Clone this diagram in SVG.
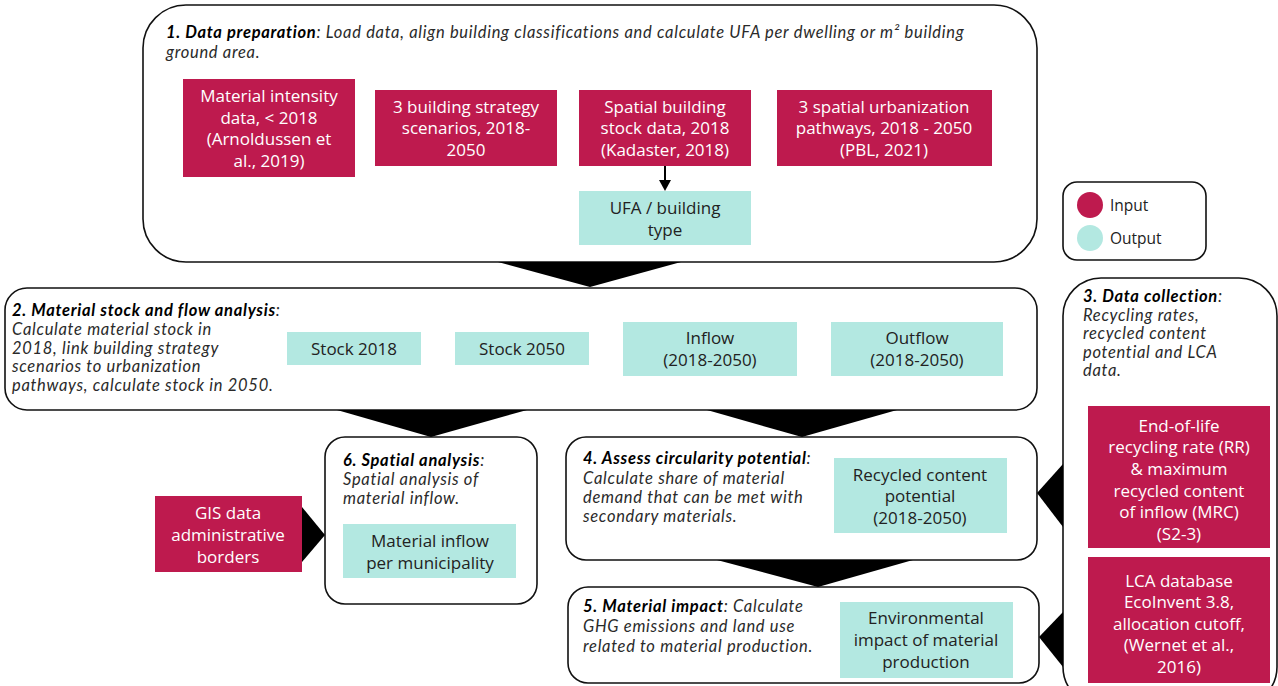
<svg xmlns="http://www.w3.org/2000/svg" width="1278" height="686" viewBox="0 0 1278 686">
<style>
.frame{fill:#fff;stroke:#111;stroke-width:1.6}
.in{fill:#BE1A4E}
.out{fill:#B3E8E1}
.tin{fill:#fff;font-family:"Open Sans",Lato,sans-serif;font-size:17px;text-anchor:middle}
.tout{fill:#222;font-family:"Open Sans",Lato,sans-serif;font-size:17px;text-anchor:middle}
.desc{fill:#2a2a2a;font-family:Lato,"Open Sans",sans-serif;font-size:16.5px;font-style:italic;letter-spacing:0.7px}
.hd{font-weight:bold;fill:#000}
.chev{fill:#000}
.leg{fill:#222;font-family:"Open Sans",Lato,sans-serif;font-size:15.5px}
</style>
<g id="step1">
<rect class="frame" x="143" y="5" width="894" height="257" rx="43"/>
<text class="desc" x="166" y="38"><tspan class="hd">1. Data preparation</tspan>: Load data, align building classifications and calculate UFA per dwelling or m² building</text>
<text class="desc" x="166" y="58">ground area.</text>
</g>
<g id="mi-data">
<rect class="in" x="183" y="79" width="172" height="98"/>
<text class="tin" x="269" y="102">Material intensity</text>
<text class="tin" x="269" y="124">data, &lt; 2018</text>
<text class="tin" x="269" y="145">(Arnoldussen et</text>
<text class="tin" x="269" y="167">al., 2019)</text>
</g>
<g id="strategy">
<rect class="in" x="375" y="90" width="182" height="76"/>
<text class="tin" x="466" y="113">3 building strategy</text>
<text class="tin" x="466" y="134">scenarios, 2018-</text>
<text class="tin" x="466" y="156">2050</text>
</g>
<g id="spatial-stock">
<rect class="in" x="579" y="90" width="172" height="76"/>
<text class="tin" x="665" y="113">Spatial building</text>
<text class="tin" x="665" y="134">stock data, 2018</text>
<text class="tin" x="665" y="156">(Kadaster, 2018)</text>
</g>
<g id="urbanization">
<rect class="in" x="777" y="90" width="215" height="76"/>
<text class="tin" x="884" y="113">3 spatial urbanization</text>
<text class="tin" x="884" y="134">pathways, 2018 - 2050</text>
<text class="tin" x="884" y="156">(PBL, 2021)</text>
</g>
<g id="ufa">
<rect class="out" x="579" y="191" width="172" height="54"/>
<text class="tout" x="665" y="214">UFA / building</text>
<text class="tout" x="665" y="236">type</text>
</g>
<g id="legend">
<rect class="frame" x="1063" y="182" width="143" height="78" rx="14"/>
<circle class="in" cx="1090" cy="205" r="13"/>
<circle class="out" cx="1090" cy="238" r="13"/>
<text class="leg" x="1110" y="211">Input</text>
<text class="leg" x="1110" y="244">Output</text>
</g>
<g id="step2">
<rect class="frame" x="5" y="288" width="1032" height="122" rx="22"/>
<text class="desc" x="12" y="316"><tspan class="hd">2. Material stock and flow analysis</tspan>:</text>
<text class="desc" x="12" y="335">Calculate material stock in</text>
<text class="desc" x="12" y="354">2018, link building strategy</text>
<text class="desc" x="12" y="372">scenarios to urbanization</text>
<text class="desc" x="12" y="391">pathways, calculate stock in 2050.</text>
</g>
<g id="stock2018">
<rect class="out" x="287" y="332" width="134" height="33"/>
<text class="tout" x="354" y="355">Stock 2018</text>
</g>
<g id="stock2050">
<rect class="out" x="455" y="332" width="134" height="33"/>
<text class="tout" x="522" y="355">Stock 2050</text>
</g>
<g id="inflow">
<rect class="out" x="623" y="322" width="174" height="54"/>
<text class="tout" x="710" y="344">Inflow</text>
<text class="tout" x="710" y="366">(2018-2050)</text>
</g>
<g id="outflow">
<rect class="out" x="831" y="322" width="172" height="54"/>
<text class="tout" x="917" y="344">Outflow</text>
<text class="tout" x="917" y="366">(2018-2050)</text>
</g>
<g id="step3">
<rect class="frame" x="1063" y="278" width="214" height="427" rx="38"/>
<text class="desc" x="1083" y="302"><tspan class="hd">3. Data collection</tspan>:</text>
<text class="desc" x="1083" y="321">Recycling rates,</text>
<text class="desc" x="1083" y="339">recycled content</text>
<text class="desc" x="1083" y="358">potential and LCA</text>
<text class="desc" x="1083" y="376">data.</text>
</g>
<g id="eol">
<rect class="in" x="1088" y="406" width="182" height="142"/>
<text class="tin" x="1179" y="432">End-of-life</text>
<text class="tin" x="1179" y="453">recycling rate (RR)</text>
<text class="tin" x="1179" y="475">&amp; maximum</text>
<text class="tin" x="1179" y="497">recycled content</text>
<text class="tin" x="1179" y="518">of inflow (MRC)</text>
<text class="tin" x="1179" y="540">(S2-3)</text>
</g>
<g id="lca">
<rect class="in" x="1088" y="557" width="182" height="126"/>
<text class="tin" x="1179" y="587">LCA database</text>
<text class="tin" x="1179" y="608">EcoInvent 3.8,</text>
<text class="tin" x="1179" y="630">allocation cutoff,</text>
<text class="tin" x="1179" y="651">(Wernet et al.,</text>
<text class="tin" x="1179" y="673">2016)</text>
</g>
<g id="step6">
<rect class="frame" x="325" y="437" width="212" height="167" rx="20"/>
<text class="desc" x="343" y="466"><tspan class="hd">6. Spatial analysis</tspan>:</text>
<text class="desc" x="343" y="485">Spatial analysis of</text>
<text class="desc" x="343" y="504">material inflow.</text>
</g>
<g id="gis">
<rect class="in" x="155" y="496" width="147" height="76"/>
<text class="tin" x="228" y="519">GIS data</text>
<text class="tin" x="228" y="541">administrative</text>
<text class="tin" x="228" y="563">borders</text>
</g>
<g id="inflow-muni">
<rect class="out" x="343" y="524" width="173" height="54"/>
<text class="tout" x="430" y="547">Material inflow</text>
<text class="tout" x="430" y="569">per municipality</text>
</g>
<g id="step4">
<rect class="frame" x="566" y="437" width="471" height="123" rx="20"/>
<text class="desc" x="583" y="464"><tspan class="hd">4. Assess circularity potential</tspan>:</text>
<text class="desc" x="583" y="484">Calculate share of material</text>
<text class="desc" x="583" y="503">demand that can be met with</text>
<text class="desc" x="583" y="522">secondary materials.</text>
</g>
<g id="recycled">
<rect class="out" x="834" y="458" width="173" height="75"/>
<text class="tout" x="920" y="481">Recycled content</text>
<text class="tout" x="920" y="502">potential</text>
<text class="tout" x="920" y="524">(2018-2050)</text>
</g>
<g id="step5">
<rect class="frame" x="568" y="587" width="471" height="96" rx="20"/>
<text class="desc" x="583" y="612"><tspan class="hd">5. Material impact</tspan>: Calculate</text>
<text class="desc" x="583" y="632">GHG emissions and land use</text>
<text class="desc" x="583" y="652">related to material production.</text>
</g>
<g id="env">
<rect class="out" x="840" y="602" width="173" height="76"/>
<text class="tout" x="926" y="624">Environmental</text>
<text class="tout" x="926" y="646">impact of material</text>
<text class="tout" x="926" y="668">production</text>
</g>
<g id="connectors">
<polygon class="chev" points="498,262 681,262 590,287"/>
<polygon class="chev" points="337,410 527,410 431,437"/>
<polygon class="chev" points="707,410 897,410 802,437"/>
<polygon class="chev" points="717,560 913,560 818,587"/>
<polygon class="chev" points="1063,464 1063,527 1037,493"/>
<polygon class="chev" points="1063,612 1063,667 1039,637"/>
<polygon class="chev" points="302,507 302,562 325,535"/>
<line x1="665" y1="166" x2="665" y2="181" stroke="#000" stroke-width="2"/>
<polygon class="chev" points="659,180 671,180 665,191"/>
</g>
</svg>
